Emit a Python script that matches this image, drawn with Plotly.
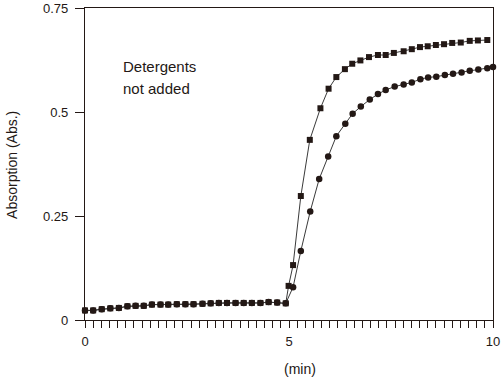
import plotly.graph_objects as go

# Shared baseline (both series overlap before the jump)
base_t = [0.0, 0.2, 0.41, 0.62, 0.83, 1.04, 1.24, 1.44, 1.64, 1.85, 2.04, 2.25,
          2.46, 2.66, 2.88, 3.08, 3.28, 3.48, 3.69, 3.89, 4.09, 4.30, 4.50, 4.71, 4.92]
base_abs = [0.023, 0.023, 0.026, 0.028, 0.029, 0.033, 0.034, 0.034, 0.037, 0.037,
            0.037, 0.038, 0.038, 0.038, 0.039, 0.040, 0.041, 0.041, 0.041, 0.041,
            0.041, 0.041, 0.043, 0.042, 0.040]

sq_t = [4.99, 5.10, 5.29, 5.51, 5.77, 5.97, 6.16, 6.37, 6.55, 6.75, 6.96, 7.18, 7.37,
        7.57, 7.81, 8.01, 8.21, 8.40, 8.60, 8.80, 9.00, 9.21, 9.43, 9.63, 9.86]
sq_abs = [0.082, 0.132, 0.298, 0.433, 0.509, 0.556, 0.584, 0.603, 0.616, 0.624, 0.632,
          0.637, 0.637, 0.642, 0.646, 0.651, 0.656, 0.658, 0.661, 0.663, 0.666, 0.667,
          0.671, 0.672, 0.673]

ci_t = [5.10, 5.29, 5.52, 5.74, 5.96, 6.16, 6.38, 6.56, 6.76, 6.98, 7.18, 7.37, 7.59,
        7.81, 8.01, 8.22, 8.41, 8.61, 8.82, 9.02, 9.23, 9.43, 9.64, 9.86, 10.0]
ci_abs = [0.079, 0.166, 0.261, 0.339, 0.393, 0.442, 0.472, 0.496, 0.513, 0.530, 0.543,
          0.553, 0.561, 0.566, 0.571, 0.579, 0.583, 0.585, 0.589, 0.592, 0.595, 0.599,
          0.602, 0.605, 0.608]

x_ticks = [0, 5, 10]
y_ticks = [0, 0.25, 0.5, 0.75]
y_tick_text = ["0", "0.25", "0.5", "0.75"]

INK = "#231815"
LINE = "#3a3a3a"
FONT = "Liberation Sans, Arial, sans-serif"

fig = go.Figure()
fig.add_trace(go.Scatter(
    x=base_t + sq_t, y=base_abs + sq_abs, mode="lines+markers",
    line=dict(color=LINE, width=1),
    marker=dict(symbol="square", size=6, color=INK),
    cliponaxis=False, showlegend=False))
fig.add_trace(go.Scatter(
    x=base_t + ci_t, y=base_abs + ci_abs, mode="lines+markers",
    line=dict(color=LINE, width=1),
    marker=dict(symbol="circle", size=6.5, color=INK),
    cliponaxis=False, showlegend=False))

fig.update_layout(
    width=504, height=382,
    margin=dict(l=85, r=11, t=8, b=62, autoexpand=False),
    paper_bgcolor="white", plot_bgcolor="white",
    font=dict(family=FONT, size=13, color=INK),
    xaxis=dict(range=[0, 10], tickvals=x_ticks, ticks="outside", ticklen=7,
               tickwidth=1, tickcolor=INK, showline=True, linecolor=INK,
               linewidth=1.3, mirror=True, showgrid=False, zeroline=False,
               automargin=False, ticklabelstandoff=2,
               minor=dict(dtick=0.2, tick0=0, ticks="outside", ticklen=7,
                          tickwidth=1, tickcolor=INK, showgrid=False),
               tickfont=dict(size=13, color=INK)),
    yaxis=dict(range=[0, 0.75], tickvals=y_ticks, ticktext=y_tick_text,
               ticks="outside", ticklen=9, tickwidth=1, tickcolor=INK,
               showline=True, linecolor=INK, linewidth=1.3, mirror=True,
               automargin=False, ticklabelstandoff=4,
               showgrid=False, zeroline=False, tickfont=dict(size=13, color=INK)),
)

fig.add_annotation(text="Absorption (Abs.)", xref="paper", yref="paper",
                   x=-0.179, y=0.497, xanchor="center", yanchor="middle",
                   textangle=-90, showarrow=False, font=dict(size=14, color=INK))
fig.add_annotation(text="(min)", xref="paper", yref="paper",
                   x=0.527, y=-0.157, xanchor="center", yanchor="middle",
                   showarrow=False, font=dict(size=14, color=INK))
fig.add_annotation(text="Detergents", xref="paper", yref="paper",
                   x=0.088, y=(320 - 66) / 312, xanchor="left", yanchor="middle",
                   showarrow=False, font=dict(size=15, color=INK))
fig.add_annotation(text="not added", xref="paper", yref="paper",
                   x=0.088, y=(320 - 89) / 312, xanchor="left", yanchor="middle",
                   showarrow=False, font=dict(size=15, color=INK))

fig.write_html("out.html",
               config={"displayModeBar": False},
               post_script="document.body.style.margin='0px';"
                           "document.body.style.overflow='hidden';")
